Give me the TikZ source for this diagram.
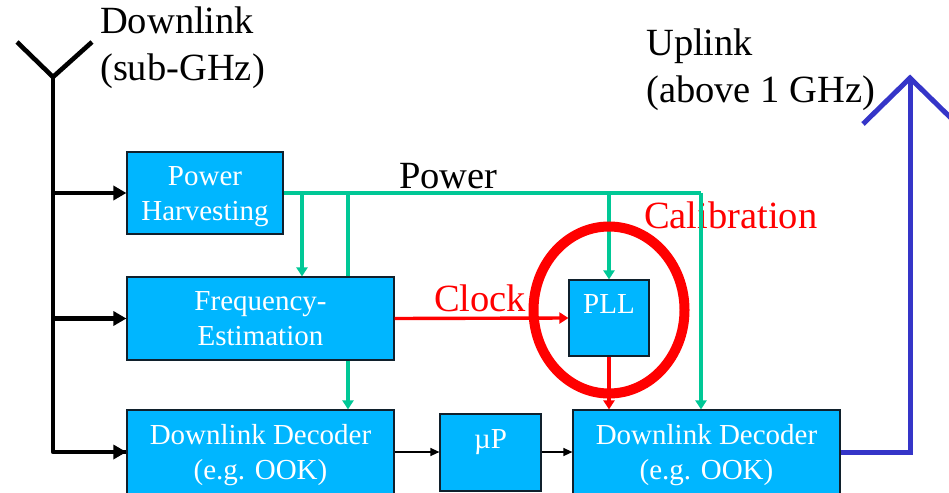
\documentclass[tikz,border=0pt]{standalone}
\usepackage{fontspec}
\setmainfont{Liberation Serif}
\usetikzlibrary{arrows.meta,calc,shapes.geometric}
\definecolor{boxfill}{HTML}{00B6FF}
\definecolor{boxborder}{HTML}{10202C}
\definecolor{powergreen}{HTML}{00C896}
\definecolor{clockred}{HTML}{FF0000}
\definecolor{uplinkblue}{HTML}{3535C8}
\newcommand{\toprow}{\rule{0pt}{30pt}}

\begin{document}
\begin{tikzpicture}[
  x=1pt, y=-1pt,
  block/.style={fill=boxfill, draw=boxborder, line width=1.2pt, inner sep=0pt, align=center, text=white, font=\fontsize{29}{35}\selectfont,
    execute at end node={\rule[-10.3pt]{0pt}{10.3pt}}},
  caption/.style={anchor=west, align=left, inner sep=0pt, font=\fontsize{38.5}{47}\selectfont},
  feed/.style={draw=black, line width=4.6pt, -{Triangle[length=13pt,width=14pt]}},
  wire/.style={draw=black, line width=1.3pt, -{Triangle[length=9pt,width=8pt]}},
  powerline/.style={draw=powergreen, line width=3.4pt},
  powerfeed/.style={powerline, -{Triangle[length=9pt,width=11pt]}},
  clockline/.style={draw=clockred, line width=3.4pt, -{Triangle[length=9pt,width=11pt]}}
]
\useasboundingbox (0,0) rectangle (949,492);

% blocks
\node[block, minimum width=156pt, minimum height=82pt] (harvest) at (205,193) {\toprow Power\\Harvesting};
\node[block, minimum width=267pt, minimum height=83pt] (freq) at (260.5,318.5) {\toprow Frequency-\\Estimation};
\node[block, minimum width=267pt, minimum height=84pt] (decleft) at (260.5,452) {\toprow Downlink Decoder\\(e.g. OOK)};
\node[block, minimum width=101pt, minimum height=77pt] (cpu) at (490.5,452.5) {\toprow\textmu P\\[-7pt]~};
\node[block, minimum width=267pt, minimum height=84pt] (decright) at (706.5,452) {\toprow Downlink Decoder\\(e.g. OOK)};
\node[block, minimum width=80pt, minimum height=76pt] (pll) at (609,318) {\toprow PLL\\[-7pt]~};

% labels
\node[caption] (downlink) at (100,48) {Downlink\\(sub-GHz)};
\node[caption] (uplink) at (646,70) {Uplink\\(above 1 GHz)};
\node[caption] (powerlabel) at (399,176) {Power};
\node[caption, text=clockred] (clocklabel) at (434,298) {Clock};
\node[caption, text=clockred] (callabel) at (644,215) {Calibration};

% downlink antenna
\coordinate (anttop) at (53,77);
\coordinate (antfoot) at (53,452);
\coordinate (antleft) at (17,42);
\coordinate (antright) at (92,42);
\draw[draw=black, line width=4.6pt, line join=round] (antleft) -- (anttop) -- (antright);
\draw[draw=black, line width=4.6pt, line join=round] (anttop) -- (antfoot) -- (decleft.west);
\draw[feed] (antfoot) -- (decleft.west);
\foreach \name in {harvest, freq} {
  \draw[feed] (anttop |- \name.west) -- (\name.west);
}

% power rail
\coordinate (railfreq) at (302,193);
\coordinate (raildec) at (348,193);
\coordinate (railpll) at (609,193);
\coordinate (railend) at (701,193);
\draw[powerline, line width=4.5pt, line join=round] (harvest.east) -- (railend);
\draw[powerfeed] (railfreq) -- (railfreq |- freq.north);
\draw[powerline] (raildec) -- (raildec |- freq.north);
\draw[powerfeed] (raildec |- freq.south) -- (raildec |- decleft.north);
\draw[powerfeed] (railpll) -- (pll.north);
\draw[powerfeed] (railend) -- (railend |- decright.north);

% calibration ring
\node[draw=clockred, line width=10pt, ellipse, minimum width=151pt, minimum height=167pt, inner sep=0pt] (ring) at (609,310) {};

\draw[clockline] (freq.east) -- (pll.west);
\draw[clockline] (pll.south) -- (pll.south |- decright.north);

% data path
\draw[wire] (decleft.east) -- (cpu.west |- decleft.east);
\draw[wire] (cpu.east |- decright.west) -- (decright.west);

% uplink antenna
\coordinate (upcorner) at (910,452);
\coordinate (uptip) at (910,78);
\coordinate (upleft) at (863,124);
\coordinate (upright) at (957,124);
\draw[draw=uplinkblue, line width=5pt, line join=miter] (decright.east |- upcorner) -- (upcorner) -- (uptip);
\draw[draw=uplinkblue, line width=5pt, line join=miter] (upleft) -- (uptip) -- (upright);
\end{tikzpicture}
\end{document}
